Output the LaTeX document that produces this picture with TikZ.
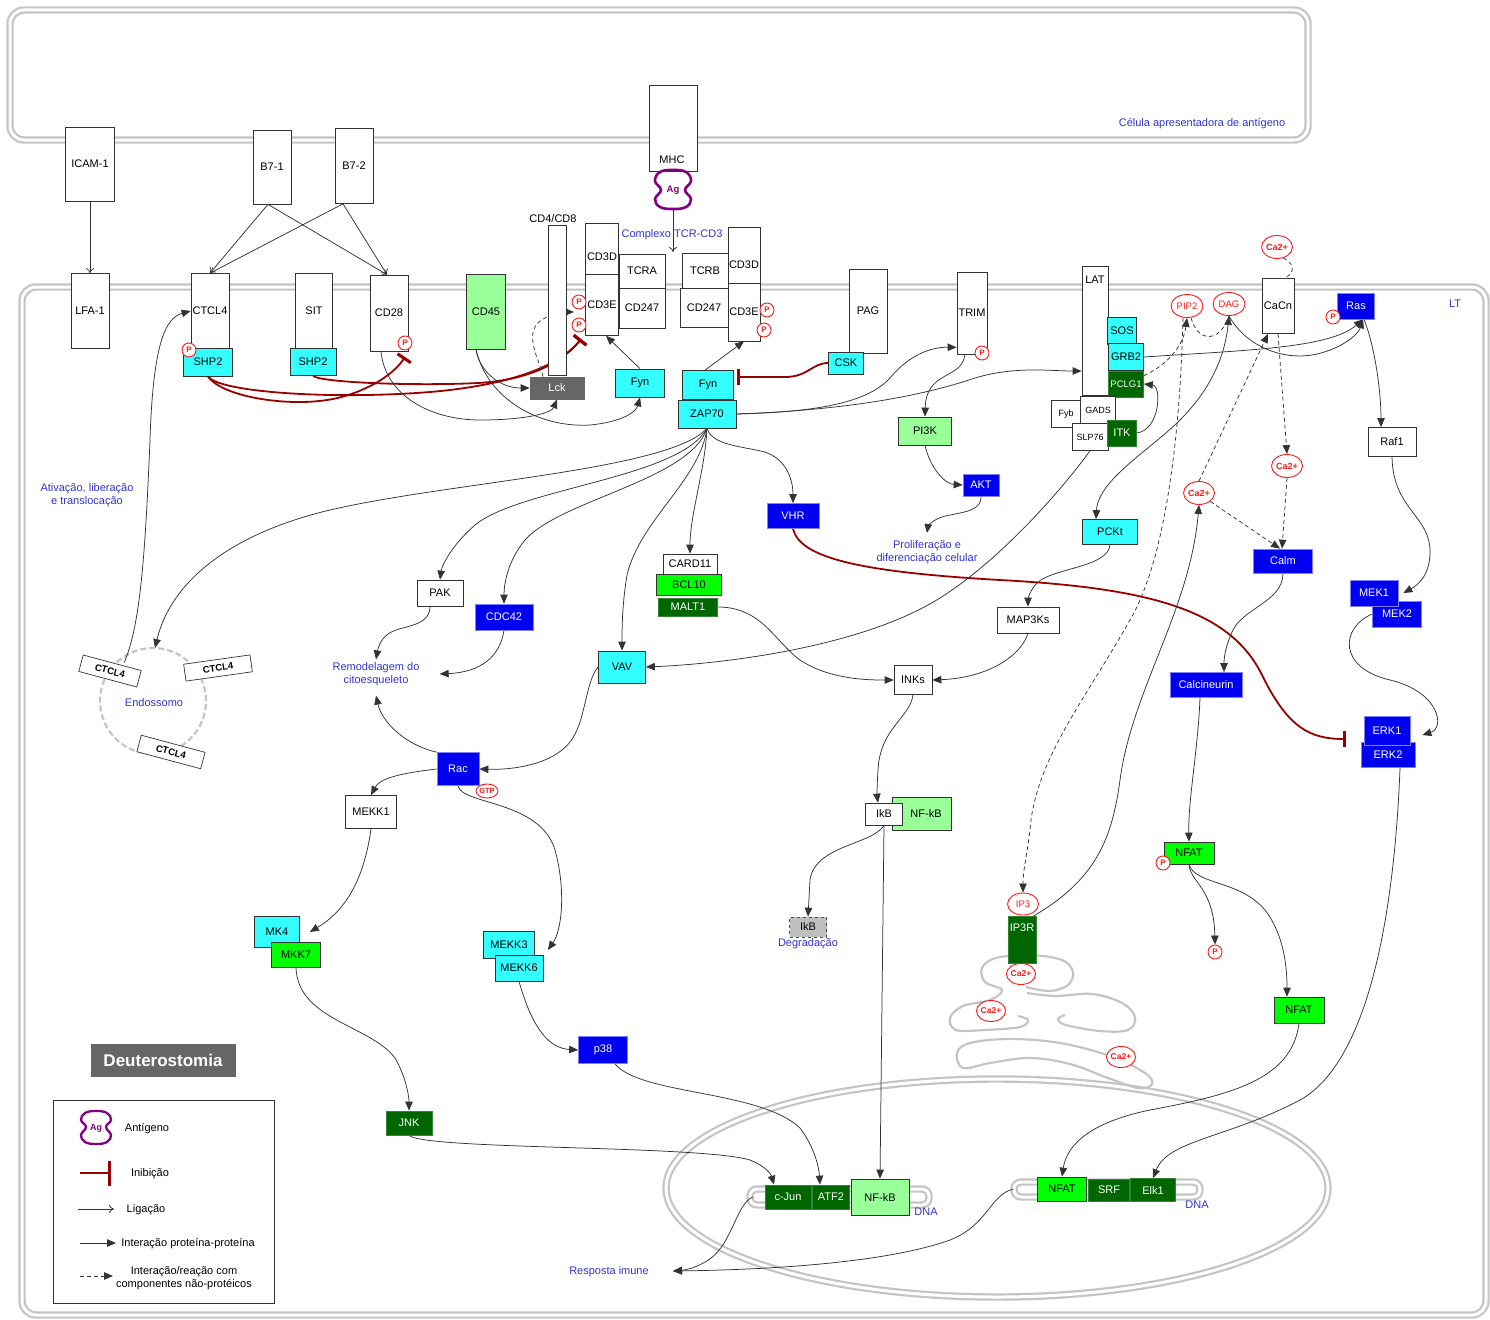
\documentclass[tikz,border=0pt]{standalone}
\usepackage{fontspec}
\setmainfont{Liberation Sans}
\usetikzlibrary{arrows.meta,shapes.geometric,calc}
\pgfdeclarelayer{bg}
\pgfsetlayers{bg,main}
\definecolor{cy}{HTML}{33FFFF}
\definecolor{bl}{HTML}{0000F0}
\definecolor{bld}{HTML}{8080FF}
\definecolor{lg}{HTML}{99FF99}
\definecolor{gr}{HTML}{00FF00}
\definecolor{dg}{HTML}{006600}
\definecolor{lbl}{HTML}{3333CC}
\definecolor{inhc}{HTML}{990000}
\definecolor{mem}{HTML}{C4C4C4}
\definecolor{agc}{HTML}{800080}
\definecolor{pr}{HTML}{FF1A1A}
\tikzset{
 every node/.style={font=\fontsize{11}{12.5}\selectfont, inner sep=0pt},
 sz/.style 2 args={minimum width=#1pt, minimum height=#2pt},
 nb/.style={draw=black!80, line width=0.7pt, inner sep=0pt},
 wbox/.style={nb, fill=white},
 cbox/.style={nb, fill=cy},
 bbox/.style={nb, draw=bld, fill=bl, text=white},
 lbox/.style={nb, fill=lg},
 gbox/.style={nb, fill=gr},
 dbox/.style={nb, draw=dg!80!white, fill=dg, text=white},
 lab/.style={text=lbl, align=center},
 pc/.style={circle, draw=pr, fill=white, line width=0.9pt, minimum size=14pt, text=pr, font=\fontsize{8}{8}\selectfont\bfseries},
 cae/.style={ellipse, draw=pr, fill=white, line width=0.9pt, minimum width=31pt, minimum height=23pt, text=pr, font=\fontsize{9}{9}\selectfont\bfseries},
 cae2/.style={cae, minimum width=27pt, minimum height=21pt, font=\fontsize{8.5}{9}\selectfont\bfseries},
 lip/.style={ellipse, draw=pr, fill=white, line width=0.9pt, minimum width=32pt, minimum height=23pt, text=pr, font=\fontsize{9.5}{10}\selectfont},
 pp/.style={draw=black!80, line width=0.75pt, -{Triangle[length=9pt,width=7.5pt]}},
 pp2/.style={draw=black!80, line width=0.75pt, {Triangle[length=9pt,width=7.5pt]}-{Triangle[length=9pt,width=7.5pt]}},
 dsh/.style={pp, dash pattern=on 4pt off 3pt},
 dshl/.style={draw=black!80, line width=0.75pt, dash pattern=on 4pt off 3pt},
 lig/.style={draw=black!80, line width=0.75pt, -{To[length=5pt,width=8pt]}},
 inh/.style={draw=inhc, line width=1.8pt, -{Bar[width=16pt,line width=3pt]}},
 membr/.style={draw=mem, line width=2.2pt, double=white, double distance=3pt},
 erline/.style={draw=mem, line width=2.2pt},
 agshape/.style={draw=agc, line width=2.6pt},
}
\begin{document}
\begin{tikzpicture}[x=1pt,y=-1pt]
\useasboundingbox (0,0) rectangle (1490,1319);

% ---------- APC ----------
\node[wbox, sz={49}{74}] (icam) at (90,164) {ICAM-1};
\node[wbox, sz={38}{74}] (b71) at (272,167) {B7-1};
\node[wbox, sz={38}{75}] (b72) at (354,166) {B7-2};
\node[wbox, sz={48}{86}] (mhc) at (673,128) {};
\node (mhct) at (672,160) {MHC};
\draw[agshape] plot[smooth cycle, tension=0.7] coordinates {(673,170) (686,172) (691,181) (685,190) (691,199) (686,207) (673,209) (660,207) (655,199) (661,190) (655,181) (660,172)};
\node[sz={20}{40}, text=agc, font=\fontsize{9.5}{10}\selectfont\bfseries] (ag) at (673,190) {Ag};
\node[lab] (apc) at (1202,124) {Célula apresentadora de antígeno};

% ---------- membrane proteins ----------
\node[wbox, sz={38}{75}] (lfa) at (90,311) {LFA-1};
\node[wbox, sz={38}{75}] (ctcl4) at (210,311) {CTCL4};
\node[wbox, sz={37}{75}] (sit) at (314,311) {SIT};
\node[wbox, sz={38}{76}] (cd28) at (389,313) {CD28};
\node[lbox, sz={39}{75}] (cd45) at (486,312) {CD45};
\node[wbox, sz={18}{150}] (cd4) at (557,300) {};
\node (cd4t) at (553,219) {CD4/CD8};
\node[wbox, sz={33}{52}] (cd3dl) at (602,249) {};
\node (cd3dlt) at (602,257) {CD3D};
\node[wbox, sz={33}{61}] (cd3el) at (602,305) {CD3E};
\node[wbox, sz={46}{34}] (tcra) at (642,271) {TCRA};
\node[wbox, sz={46}{40}] (cd247l) at (642,308) {CD247};
\node[wbox, sz={46}{36}] (tcrb) at (705,271) {TCRB};
\node[wbox, sz={48}{39}] (cd247r) at (704,308) {CD247};
\node[wbox, sz={32}{56}] (cd3dr) at (744,255) {};
\node (cd3drt) at (744,265) {CD3D};
\node[wbox, sz={32}{58}] (cd3er) at (744,312) {CD3E};
\node[lab] (cplx) at (672,235) {Complexo TCR-CD3};
\node[wbox, sz={38}{84}] (pag) at (868,311) {PAG};
\node[wbox, sz={30}{82}] (trim) at (972,313) {TRIM};
\node[wbox, sz={26}{129}] (lat) at (1095,331) {};
\node (latt) at (1095,280) {LAT};
\node[wbox, sz={32}{55}] (cacn) at (1278,306) {CaCn};
\node[lab] (lt) at (1455,304) {LT};

% ---------- cytoplasm ----------
\node[cbox, sz={49}{28}] (shp2a) at (208,362) {SHP2};
\node[cbox, sz={46}{27}] (shp2b) at (313,362) {SHP2};
\node[nb, draw=black!60, fill=black!60, text=white, sz={54}{22}] (lck) at (557,388) {Lck};
\node[cbox, sz={49}{28}] (fynl) at (640,383) {Fyn};
\node[cbox, sz={51}{29}] (fynr) at (708,385) {Fyn};
\node[cbox, sz={58}{28}] (zap) at (707,414) {ZAP70};
\node[cbox, sz={35}{22}] (csk) at (846,363) {CSK};
\node[cbox, sz={29}{27}] (sos) at (1122,331) {SOS};
\node[cbox, sz={35}{27}] (grb2) at (1126,357) {GRB2};
\node[dbox, sz={35}{26}, font=\fontsize{9.5}{11}\selectfont] (pclg) at (1126,384) {PCLG1};
\node[wbox, sz={30}{27}, font=\fontsize{9}{10}\selectfont] (fyb) at (1066,414) {Fyb};
\node[wbox, sz={35}{28}, font=\fontsize{9}{10}\selectfont] (gads) at (1098,410) {GADS};
\node[wbox, sz={36}{27}, font=\fontsize{9}{10}\selectfont] (slp) at (1090,437) {SLP76};
\node[dbox, sz={29}{26}] (itk) at (1122,433) {ITK};
\node[lip] (pip2) at (1187,306) {PIP2};
\node[lip] (dag) at (1229,304) {DAG};
\node[cae] (ca1) at (1277,247) {Ca2+};
\node[bbox, sz={37}{26}] (ras) at (1356,306) {Ras};
\node[wbox, sz={48}{29}] (raf) at (1392,442) {Raf1};
\node[lbox, sz={53}{28}] (pi3k) at (925,431) {PI3K};
\node[bbox, sz={36}{22}] (akt) at (981,485) {AKT};
\node[bbox, sz={52}{25}] (vhr) at (793,516) {VHR};
\node[lab] (prolif) at (927,552) {Proliferação e\\diferenciação celular};
\node[cbox, sz={55}{25}] (pckt) at (1110,532) {PCKt};
\node[cae] (ca2) at (1287,466) {Ca2+};
\node[cae] (ca3) at (1199,493) {Ca2+};
\node[bbox, sz={59}{24}] (calm) at (1283,561) {Calm};
\node[bbox, sz={49}{26}] (mek2) at (1397,614) {MEK2};
\node[bbox, sz={48}{26}] (mek1) at (1374,593) {MEK1};
\node[wbox, sz={62}{26}] (map3k) at (1028,620) {MAP3Ks};
\node[bbox, sz={72}{25}] (calcn) at (1206,685) {Calcineurin};
\node[bbox, sz={54}{25}] (erk2) at (1388,755) {ERK2};
\node[bbox, sz={46}{29}] (erk1) at (1387,731) {ERK1};
\node[wbox, sz={54}{20}] (card) at (690,564) {CARD11};
\node[gbox, sz={65}{21}] (bcl) at (689,585) {BCL10};
\node[dbox, sz={59}{18}] (malt) at (688,607) {MALT1};
\node[wbox, sz={46}{26}] (pak) at (440,593) {PAK};
\node[bbox, sz={58}{26}] (cdc) at (504,617) {CDC42};
\node[lab] (remod) at (376,674) {Remodelagem do\\citoesqueleto};
\node[cbox, sz={47}{32}] (vav) at (622,667) {VAV};
\node[wbox, sz={38}{29}] (inks) at (913,680) {INKs};
\node[bbox, sz={42}{33}] (rac) at (458,769) {Rac};
\node[wbox, sz={51}{33}] (mekk1) at (371,812) {MEKK1};
\node[lbox, sz={59}{33}] (nfkb) at (922,814) {\hspace*{8pt}NF-kB};
\node[wbox, sz={37}{22}] (ikb) at (884,814) {IkB};
\node[nb, fill=black!25, draw=black!70, dashed, sz={37}{20}] (ikbd) at (808,927) {IkB};
\node[lab] (degr) at (808,944) {Degradação};
\node[cbox, sz={45}{31}] (mk4) at (277,932) {MK4};
\node[gbox, sz={49}{25}] (mkk7) at (296,955) {MKK7};
\node[cbox, sz={51}{27}] (mekk3) at (509,945) {MEKK3};
\node[cbox, sz={48}{26}] (mekk6) at (519,968) {MEKK6};
\node[bbox, sz={49}{27}] (p38) at (603,1050) {p38};
\node[dbox, sz={46}{24}] (jnk) at (409,1123) {JNK};
\node[dbox, sz={28}{47}] (ip3r) at (1022,940) {};
\node[text=white] (ip3rt) at (1022,928) {IP3R};
\node[lip, minimum width=31pt, minimum height=22pt] (ip3) at (1023,904) {IP3};
\node[gbox, sz={50}{22}] (nfat1) at (1189,853) {NFAT};
\node[gbox, sz={50}{26}] (nfat2) at (1299,1010) {NFAT};

% nucleus contents
\node[dbox, sz={46}{24}] (cjun) at (788,1197) {c-Jun};
\node[dbox, sz={37}{24}] (atf2) at (831,1197) {ATF2};
\node[lbox, sz={58}{36}] (nfkbn) at (880,1197) {NF-kB};
\node[lab] (dna1) at (926,1212) {DNA};
\node[gbox, sz={49}{24}] (nfatn) at (1062,1189) {NFAT};
\node[dbox, sz={41}{22}] (srf) at (1109,1190) {SRF};
\node[dbox, sz={45}{23}] (elk1) at (1153,1190) {Elk1};
\node[lab] (dna2) at (1197,1205) {DNA};
\node[lab] (resp) at (609,1272) {Resposta imune};
\coordinate (respin) at (673,1271);

% endosome
\node[wbox, sz={60}{17}, rotate=-15, font=\fontsize{9.5}{10}\selectfont\bfseries] (ectc1) at (110,671) {CTCL4};
\node[wbox, sz={67}{17}, rotate=8, font=\fontsize{9.5}{10}\selectfont\bfseries] (ectc2) at (218,668) {CTCL4};
\node[wbox, sz={66}{17}, rotate=-15, font=\fontsize{9.5}{10}\selectfont\bfseries] (ectc3) at (171,752) {CTCL4};
\node[lab] (endol) at (154,703) {Endossomo};
\node[lab] (ativ) at (87,495) {Ativação, liberação\\e translocação};

% small markers
\node[pc] (p1) at (189,350) {P};
\node[pc] (p2) at (405,343) {P};
\node[pc] (p3) at (579,302) {P};
\node[pc] (p4) at (579,325) {P};
\node[pc] (p5) at (767,310) {P};
\node[pc] (p6) at (764,330) {P};
\node[pc] (p7) at (982,353) {P};
\node[pc] (p8) at (1333,317) {P};
\node[pc] (p9) at (1163,863) {P};
\node[pc] (pend) at (1215,952) {P};
\node[ellipse, draw=pr, fill=white, line width=0.9pt, minimum width=22pt, minimum height=14pt, text=pr, font=\fontsize{7.5}{8}\selectfont\bfseries] (gtp) at (487,791) {GTP};
\node[cae2] (ca4) at (1021,974) {Ca2+};
\node[cae2] (ca5) at (991,1011) {Ca2+};
\node[cae2] (ca6) at (1121,1057) {Ca2+};

% legend
\node[fill=black!60, text=white, font=\fontsize{17}{19}\selectfont\bfseries, sz={145}{33}] (deut) at (163,1060) {Deuterostomia};
\node[draw=black!80, line width=0.8pt, sz={221}{203}] (leg) at (163.5,1201.5) {};
\draw[agshape, line width=2.3pt] plot[smooth cycle, tension=0.7] coordinates {(96,1111) (107,1113) (111,1120) (106,1127) (111,1135) (107,1142) (96,1144) (85,1142) (81,1135) (86,1127) (81,1120) (85,1113)};
\node[text=agc, font=\fontsize{9}{9}\selectfont\bfseries] (lag) at (96,1128) {Ag};
\node (lagt) at (147,1129) {Antígeno};
\node (linh) at (150,1174) {Inibição};
\node (llig) at (146,1210) {Ligação};
\node (lpp) at (188,1244) {Interação proteína-proteína};
\node[align=center] (ldsh) at (184,1278) {Interação/reação com\\componentes não-protéicos};
\coordinate (l1a) at (80,1173);
\coordinate (l1b) at (111,1173);
\coordinate (l2a) at (78,1209);
\coordinate (l2b) at (114,1209);
\coordinate (l3a) at (80,1243);
\coordinate (l3b) at (116,1243);
\coordinate (l4a) at (80,1276);
\coordinate (l4b) at (113,1276);

% connector end points
\coordinate (cplxin) at (673,252);
\coordinate (cd28i) at (405,357);
\coordinate (cd3ei) at (581,339);
\coordinate (fyni) at (737,377);
\coordinate (erki) at (1346,739);
\coordinate (cd3ein) at (574,312);
\coordinate (prolin) at (927,533);
\coordinate (endoin) at (155,648);

\begin{pgfonlayer}{bg}
% membranes
\draw[membr, rounded corners=14pt] (10,10) rectangle (1308,140);
\draw[membr, rounded corners=14pt] (22,287) rectangle (1486,1315);
\draw[membr] (997,1188) ellipse [x radius=331pt, y radius=109pt];
\draw[draw=mem, line width=2.2pt, dash pattern=on 6pt off 3pt] (153,701) circle[radius=53pt];
% ER
\draw[erline] plot[smooth, tension=0.6] coordinates {(1026,987) (1050,991) (1068,985) (1073,972) (1062,960) (1030,955) (996,958) (982,968) (985,982) (1002,990) (990,1000) (963,1006) (950,1018) (956,1030) (985,1030) (1020,1027) (1028,1020) (1018,1016)};
\draw[erline] plot[smooth, tension=0.6] coordinates {(1027,993) (1055,996) (1092,994) (1122,1003) (1135,1017) (1128,1030) (1100,1031) (1066,1025) (1058,1019) (1065,1015)};
\draw[erline] plot[smooth cycle, tension=0.6] coordinates {(957,1053) (970,1043) (1010,1039) (1060,1043) (1110,1056) (1145,1073) (1152,1084) (1138,1088) (1108,1078) (1070,1064) (1030,1058) (990,1063) (963,1068)};
% DNA
\draw[membr, rounded corners=7pt] (750,1189) rectangle (929,1205);
\draw[membr, rounded corners=7pt] (1014,1182) rectangle (1200,1197);

% binding
\draw[lig] (icam.south) -- (lfa.north);
\draw[lig] ([xshift=-4pt]b71.south) -- (ctcl4.north);
\draw[lig] ([xshift=-4pt]b71.south) -- ([xshift=-2pt]cd28.north);
\draw[lig] ([xshift=-11pt]b72.south) -- (ctcl4.north);
\draw[lig] ([xshift=-11pt]b72.south) -- ([xshift=-2pt]cd28.north);
\draw[lig] (ag.south) -- (cplxin);

% inhibitions
\draw[inh] (shp2a.south) .. controls (222,398) and (300,410) .. (345,396) .. controls (375,387) and (395,372) .. (cd28i);
\draw[inh] (shp2a.south) .. controls (218,392) and (330,400) .. (430,392) .. controls (500,386) and (556,370) .. (cd3ei);
\draw[inh] (shp2b.south) .. controls (322,383) and (420,386) .. (478,383) .. controls (530,380) and (563,362) .. (cd3ei);
\draw[inh] (csk.west) .. controls (812,363) and (808,377) .. (785,377) -- (fyni);
\draw[inh] (vhr.south) .. controls (800,558) and (860,572) .. (1000,580) .. controls (1150,588) and (1230,610) .. (1262,675) .. controls (1288,728) and (1310,739) .. (erki);

% T cell membrane signalling
\draw[pp] ([xshift=-8pt]cd28.south) .. controls (385,395) and (430,420) .. (480,420) .. controls (530,420) and (552,412) .. (lck.south);
\draw[pp] ([xshift=-10pt]cd45.south) .. controls (480,372) and (500,388) .. (lck.west);
\draw[pp] ([xshift=-10pt]cd45.south) .. controls (488,400) and (540,428) .. (590,425) .. controls (622,422) and (636,412) .. (fynl.south);
\draw[dsh] ([xshift=-14pt]lck.north) .. controls (540,360) and (520,330) .. (545,318) .. controls (555,313) and (562,312) .. (cd3ein);
\draw[pp] (fynl.north) -- ([xshift=4pt]cd3el.south);
\draw[pp] ([xshift=-3pt]fynr.north) -- (cd3er.south);
\draw[pp] (zap.east) .. controls (820,412) and (868,402) .. (890,378) .. controls (908,356) and (930,347) .. ([yshift=7pt]trim.south west);
\draw[pp] (zap.east) .. controls (850,410) and (925,395) .. (975,378) .. controls (1015,366) and (1050,371) .. ([yshift=-40pt]lat.west);
\draw[pp] ([xshift=-7pt]trim.south) .. controls (962,380) and (926,370) .. (pi3k.north);
\draw[pp] (pi3k.south) .. controls (930,468) and (945,484) .. (akt.west);
\draw[pp] (akt.south) .. controls (982,515) and (950,512) .. (937,519) .. controls (930,523) and (928,526) .. (prolin);

% ZAP70 fan
\draw[pp] (zap.south) .. controls (712,445) and (740,446) .. (765,452) .. controls (788,460) and (793,482) .. (vhr.north);
\draw[pp] (zap.south) .. controls (705,470) and (690,515) .. (card.north);
\draw[pp] (zap.south) .. controls (700,480) and (640,520) .. (627,575) .. controls (622,605) and (622,630) .. (vav.north);
\draw[pp] (zap.south) .. controls (690,480) and (560,500) .. (525,540) .. controls (507,562) and (504,585) .. (cdc.north);
\draw[pp] (zap.south) .. controls (680,478) and (520,488) .. (475,525) .. controls (452,545) and (442,565) .. (pak.north);
\draw[pp] (zap.south) .. controls (670,470) and (450,482) .. (330,510) .. controls (225,535) and (170,585) .. (endoin);
\draw[pp] ([xshift=12pt]ectc1.north) .. controls (140,625) and (145,560) .. (150,440) .. controls (153,345) and (165,318) .. (ctcl4.west);

% LAT complex
\draw[pp] (slp.south) .. controls (1060,492) and (1000,560) .. (940,598) .. controls (860,648) and (720,664) .. (vav.east);
\draw[pp] (itk.east) .. controls (1160,430) and (1162,386) .. (pclg.east);
\draw[pp] (grb2.east) .. controls (1250,350) and (1330,348) .. ([xshift=7pt]ras.south);
\draw[pp] (dag.south) .. controls (1245,345) and (1280,360) .. (1312,355) .. controls (1340,350) and (1358,335) .. ([xshift=7pt]ras.south);
\draw[pp2] ([xshift=-14pt]pckt.north) .. controls (1098,480) and (1150,450) .. (1180,420) .. controls (1218,382) and (1226,345) .. (dag.south);
\draw[pp] ([xshift=8pt]ras.south) .. controls (1376,350) and (1381,395) .. ([xshift=-11pt]raf.north);
\draw[pp] (raf.south) .. controls (1393,510) and (1430,515) .. (1430,552) .. controls (1430,575) and (1418,585) .. ([xshift=5pt]mek1.east);
\draw[pp] (mek2.west) .. controls (1340,628) and (1338,668) .. (1390,680) .. controls (1440,692) and (1445,728) .. ([xshift=12pt,yshift=-4pt]erk1.east);
\draw[pp] ([xshift=12pt]erk2.south) .. controls (1395,900) and (1372,1060) .. (1300,1100) .. controls (1228,1138) and (1168,1140) .. (elk1.north);
\draw[pp] (calm.south) .. controls (1283,602) and (1242,608) .. (1232,632) .. controls (1225,648) and (1224,658) .. ([xshift=18pt]calcn.north);
\draw[pp] ([xshift=-6pt]calcn.south) .. controls (1198,750) and (1188,800) .. (nfat1.north);
\draw[pp] (nfat1.south) .. controls (1190,882) and (1214,888) .. (pend.north);
\draw[pp] (nfat1.south) .. controls (1195,885) and (1240,880) .. (1265,910) .. controls (1285,936) and (1287,970) .. ([xshift=-12pt]nfat2.north);
\draw[pp] (nfat2.south) .. controls (1292,1080) and (1230,1095) .. (1150,1110) .. controls (1082,1124) and (1066,1150) .. (nfatn.north);

% calcium / lipids
\draw[dshl] (ca1.-60) .. controls (1298,266) and (1292,274) .. ([xshift=7pt]cacn.north);
\draw[dsh] (cacn.south) -- (ca2.north);
\draw[dsh] (ca2.south) -- ([xshift=-1pt]calm.north);
\draw[dsh] (ca3.south east) -- ([xshift=-3pt]calm.north);
\draw[dsh] (ca3.north) -- ([xshift=-10pt]cacn.south);
\draw[dsh] ([yshift=-5pt]pclg.north east) .. controls (1165,366) and (1183,348) .. (pip2.south);
\draw[dshl] ([xshift=4pt]pip2.south) .. controls (1198,343) and (1220,343) .. (dag.south);
\draw[dsh] ([xshift=-4pt]pip2.south) .. controls (1180,440) and (1165,560) .. (1130,620) .. controls (1085,700) and (1035,760) .. (1030,830) .. controls (1027,855) and (1023,870) .. (ip3.north);
\draw[pp] ([xshift=-3pt]ip3r.north east) .. controls (1095,880) and (1112,840) .. (1120,780) .. controls (1132,690) and (1190,610) .. (ca3.south);

% MAPK / NF-kB
\draw[pp] (pckt.south) .. controls (1108,568) and (1050,568) .. (1036,584) .. controls (1029,592) and (1028,600) .. (map3k.north);
\draw[pp] (map3k.south) .. controls (1020,658) and (985,678) .. (inks.east);
\draw[pp] (malt.east) .. controls (762,607) and (775,642) .. (800,660) .. controls (830,680) and (870,680) .. (inks.west);
\draw[pp] (inks.south) .. controls (910,718) and (880,728) .. (878,770) .. controls (877,785) and (877,795) .. ([xshift=-6pt]ikb.north);
\draw[pp] (ikb.south) .. controls (872,845) and (815,845) .. (810,880) -- (ikbd.north);
\draw[pp] (ikb.south) -- (nfkbn.north);
\draw[pp] (vav.west) .. controls (585,682) and (586,722) .. (570,742) .. controls (552,765) and (512,770) .. (rac.east);
\draw[pp] (rac.north west) .. controls (405,745) and (382,722) .. ([yshift=-10pt]remod.south);
\draw[pp] ([xshift=-10pt]pak.south) .. controls (430,628) and (400,625) .. (388,634) .. controls (380,640) and (378,648) .. ([yshift=3pt]remod.north);
\draw[pp] (cdc.south) .. controls (500,656) and (482,672) .. ([xshift=20pt]remod.east);
\draw[pp] (rac.west) .. controls (402,773) and (380,778) .. (mekk1.north);
\draw[pp] (rac.south) .. controls (462,805) and (540,800) .. (555,850) .. controls (566,890) and (562,930) .. ([xshift=13pt,yshift=-5pt]mekk3.east);
\draw[pp] (mekk1.south) .. controls (365,872) and (350,908) .. ([xshift=10pt]mk4.east);
\draw[pp] (mkk7.south) .. controls (298,1020) and (370,1025) .. (395,1058) .. controls (405,1075) and (409,1095) .. (jnk.north);
\draw[pp] (mekk6.south) .. controls (530,1020) and (545,1048) .. (p38.west);
\draw[pp] ([xshift=12pt]p38.south) .. controls (640,1095) and (760,1090) .. (800,1128) .. controls (815,1148) and (819,1168) .. ([xshift=-11pt]atf2.north);
\draw[pp] (jnk.south) .. controls (425,1150) and (700,1145) .. (750,1160) .. controls (765,1166) and (771,1174) .. ([xshift=-14pt]cjun.north);
\draw[pp] ([xshift=-12pt]cjun.west) .. controls (735,1205) and (732,1248) .. (705,1262) .. controls (695,1268) and (685,1270) .. (respin);
\draw[pp] ([xshift=-24pt]nfatn.west) .. controls (990,1195) and (988,1225) .. (950,1240) .. controls (880,1265) and (750,1270) .. (respin);

% legend symbols
\draw[inh, -{Bar[width=25pt,line width=3pt]}] (l1a) -- (l1b);
\draw[lig] (l2a) -- (l2b);
\draw[pp] (l3a) -- (l3b);
\draw[dsh] (l4a) -- (l4b);
\end{pgfonlayer}
\end{tikzpicture}
\end{document}
